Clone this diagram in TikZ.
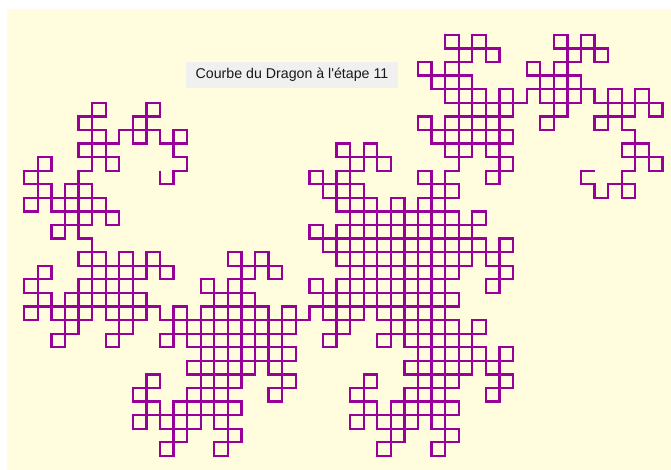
\documentclass[tikz,border=0pt]{standalone}
\usepackage{fontspec}
\setmainfont{Liberation Sans}
\usetikzlibrary{lindenmayersystems}
\definecolor{fondjaune}{HTML}{FFFDDE}
\definecolor{dragonviolet}{HTML}{990099}
\definecolor{titregris}{HTML}{F0F0F0}

\pgfdeclarelindenmayersystem{Dragon}{
  \symbol{G}{\pgflsystemdrawforward}
  \rule{F -> F+G}
  \rule{G -> F-G}
}

\begin{document}
\begin{tikzpicture}[x=1pt, y=1pt,
  fond/.style={fill=fondjaune, draw=none},
  titre/.style={fill=titregris, minimum width=212pt, minimum height=26pt, inner sep=0pt, text=black!90, font=\fontsize{14.2}{16}\selectfont},
  courbe/.style={draw=dragonviolet, line width=2.3pt, lindenmayer system={Dragon, axiom=F, order=10, step=13.58pt, angle=90}},
]

% ── Fond ──
\useasboundingbox (0,0) rectangle (671,-470);
\fill[white] (0,0) rectangle (671,-470);
\fill[fond] (7,-9) rectangle (671,-470);

% ── Titre ──
\node[titre] (titre) at (292,-75) {Courbe du Dragon à l\textquotesingle étape 11};

% ── Courbe du dragon (1024 segments) ──
\coordinate (depart) at (160,-170.7);
\begin{scope}[shift={(depart)}, rotate=-90]
  \draw[courbe] (0,0) lindenmayer system;
\end{scope}

\end{tikzpicture}
\end{document}
